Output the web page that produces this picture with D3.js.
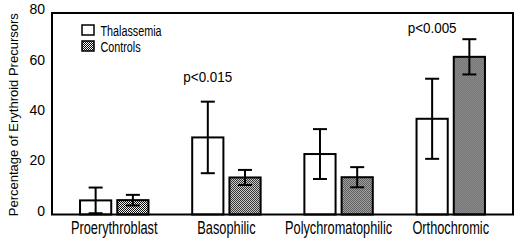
<!DOCTYPE html>
<html>
<head>
<meta charset="utf-8">
<script src="https://cdn.jsdelivr.net/npm/d3@7"></script>
<style>
  body { margin: 0; background: #fff; }
  text { font-family: "Liberation Sans", Arial, sans-serif; fill: #000; }
</style>
</head>
<body>
<div id="chart"></div>
<script>
// data
const categories = ['Proerythroblast', 'Basophilic', 'Polychromatophilic', 'Orthochromic'];
const seriesNames = ['Thalassemia', 'Controls'];
const thalMean = [5.6, 30.6, 24.0, 38.0];
const thalSD = [5.1, 14.2, 9.9, 15.9];
const ctrlMean = [5.7, 14.7, 14.8, 62.6];
const ctrlSD = [2.1, 3.0, 4.0, 7.0];
const yTicks = [0, 20, 40, 60, 80];
const pLabels = [
  { cat: 'Basophilic', text: 'p<0.015', y: 52.8 },
  { cat: 'Orthochromic', text: 'p<0.005', y: 72 }
];

const W = 520, H = 242;
const mLeft = 52, mRight = 513, mTop = 13, mBottom = 214.5;

// squeeze text horizontally to mimic the condensed face of the original
function condense(sel, f) {
  sel.each(function () {
    const t = d3.select(this);
    const x = +t.attr('x') || 0;
    t.attr('x', x / f).attr('transform', `scale(${f},1)`);
  });
}

const svg = d3.select('#chart').append('svg')
  .attr('width', W).attr('height', H);

// stipple fill for controls
const pat = svg.append('defs').append('pattern')
  .attr('id', 'stipple')
  .attr('width', 2).attr('height', 2)
  .attr('patternUnits', 'userSpaceOnUse');
pat.append('rect').attr('width', 2).attr('height', 2).attr('fill', '#fff');
pat.append('rect').attr('x', 0).attr('y', 0).attr('width', 1).attr('height', 1).attr('fill', '#000');
pat.append('rect').attr('x', 1).attr('y', 1).attr('width', 1).attr('height', 1).attr('fill', '#000');

const x0 = d3.scaleBand().domain(categories).range([mLeft, mRight])
  .paddingInner(0.39).paddingOuter(0.25);
const x1 = d3.scaleBand().domain(seriesNames).range([0, x0.bandwidth()])
  .paddingInner(0.162);
const y = d3.scaleLinear().domain([0, 80]).range([mBottom, mTop]);

const rows = categories.map((c, i) => ({
  cat: c,
  vals: [
    { s: 'Thalassemia', m: thalMean[i], sd: thalSD[i] },
    { s: 'Controls', m: ctrlMean[i], sd: ctrlSD[i] }
  ]
}));

// y axis labels
svg.append('g')
  .attr('transform', `translate(${mLeft},0)`)
  .call(d3.axisLeft(y).tickValues(yTicks).tickSize(0).tickPadding(7))
  .call(g => g.select('.domain').remove())
  .call(g => g.selectAll('text')
    .attr('font-family', null)
    .attr('font-size', 14).attr('dy', '0.05em'));

// x axis labels
svg.append('g')
  .attr('transform', `translate(0,${mBottom})`)
  .call(d3.axisBottom(x0).tickSize(0).tickPadding(7))
  .call(g => g.select('.domain').remove())
  .call(g => g.selectAll('text')
    .attr('font-family', null)
    .attr('font-size', 17.5)
    .call(condense, 0.73));

// bars
const grp = svg.append('g').selectAll('g').data(rows).join('g')
  .attr('transform', d => `translate(${x0(d.cat)},0)`);

grp.selectAll('rect').data(d => d.vals).join('rect')
  .attr('x', d => x1(d.s))
  .attr('y', d => y(d.m))
  .attr('width', x1.bandwidth())
  .attr('height', d => y(0) - y(d.m))
  .attr('fill', d => d.s === 'Controls' ? 'url(#stipple)' : '#fff')
  .attr('stroke', '#000')
  .attr('stroke-width', 2);

// error bars
const cap = 7;
const eb = grp.selectAll('g.err').data(d => d.vals).join('g').attr('class', 'err')
  .attr('stroke', '#000').attr('stroke-width', 2);
eb.append('line')
  .attr('x1', d => x1(d.s) + x1.bandwidth() / 2)
  .attr('x2', d => x1(d.s) + x1.bandwidth() / 2)
  .attr('y1', d => y(d.m - d.sd))
  .attr('y2', d => y(d.m + d.sd));
eb.append('line')
  .attr('x1', d => x1(d.s) + x1.bandwidth() / 2 - cap)
  .attr('x2', d => x1(d.s) + x1.bandwidth() / 2 + cap)
  .attr('y1', d => y(d.m + d.sd))
  .attr('y2', d => y(d.m + d.sd));
eb.append('line')
  .attr('x1', d => x1(d.s) + x1.bandwidth() / 2 - cap)
  .attr('x2', d => x1(d.s) + x1.bandwidth() / 2 + cap)
  .attr('y1', d => y(d.m - d.sd))
  .attr('y2', d => y(d.m - d.sd));

// frame
svg.append('rect')
  .attr('x', mLeft).attr('y', mTop)
  .attr('width', mRight - mLeft).attr('height', mBottom - mTop)
  .attr('fill', 'none').attr('stroke', '#000').attr('stroke-width', 2);

// p-values
svg.selectAll('text.p').data(pLabels).join('text')
  .attr('class', 'p')
  .attr('x', d => x0(d.cat) + x1('Thalassemia') + x1.bandwidth() / 2)
  .attr('y', d => y(d.y))
  .attr('text-anchor', 'middle')
  .attr('font-size', 14)
  .text(d => d.text)
  .call(condense, 0.96);

// legend
const leg = svg.append('g').selectAll('g').data(seriesNames).join('g')
  .attr('transform', (d, i) => `translate(82,${25 + i * 16})`);
leg.append('rect')
  .attr('width', 12).attr('height', 10)
  .attr('fill', d => d === 'Controls' ? 'url(#stipple)' : '#fff')
  .attr('stroke', '#000').attr('stroke-width', 1.5);
leg.append('text')
  .attr('x', 18.5).attr('y', 10.5)
  .attr('font-size', 15)
  .text(d => d)
  .call(condense, 0.72);

// y axis title
svg.append('text')
  .attr('transform', `translate(18,${(mTop + mBottom) / 2 + 1}) rotate(-90)`)
  .attr('text-anchor', 'middle')
  .attr('font-size', 13)
  .text('Percentage of Erythroid Precursors');
</script>
</body>
</html>
